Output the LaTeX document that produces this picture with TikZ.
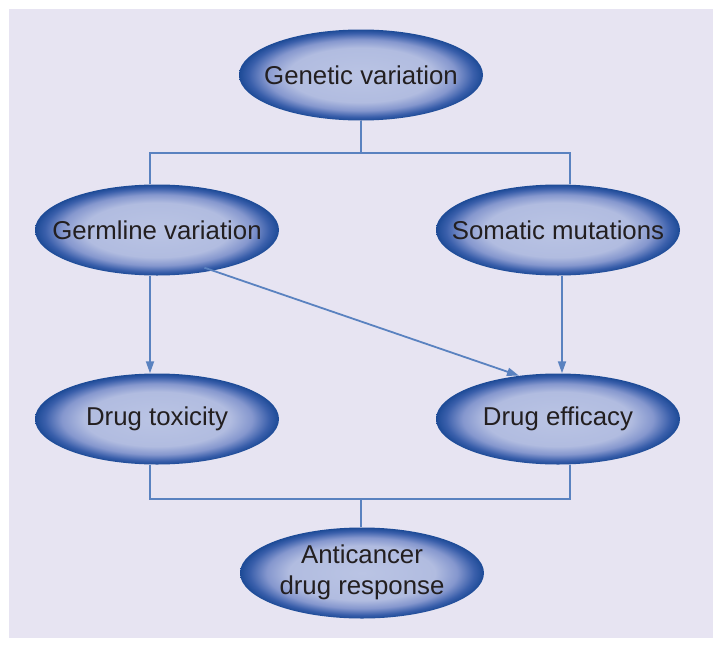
\documentclass[tikz,border=0pt]{standalone}
\usepackage{fontspec}
\setmainfont{Liberation Sans}
\usepackage{tikz}
\usetikzlibrary{calc,shapes.geometric,arrows.meta}
\definecolor{panel}{HTML}{E7E4F2}
\definecolor{ovlight}{HTML}{BAC4E4}
\definecolor{ovinner}{HTML}{B1BCE0}
\definecolor{ovmid}{HTML}{8597CE}
\definecolor{ovedge}{HTML}{3A5FAB}
\definecolor{ovdark}{HTML}{1C4A96}
\definecolor{wire}{HTML}{5A82C0}
\definecolor{ink}{HTML}{231F20}
\newcommand{\wirewidth}{1.8pt}
\newcommand{\ovalfont}{\fontsize{25.8}{31}\selectfont}
\pgfdeclareradialshading{ovalshade}{\pgfpoint{0bp}{0bp}}{color(0bp)=(ovlight); color(15bp)=(ovinner); color(19.5bp)=(ovmid); color(23bp)=(ovedge); color(25bp)=(ovdark); color(50bp)=(ovdark)}

\begin{document}
\begin{tikzpicture}[x=1pt,y=-1pt,
  oval/.style={ellipse, shade, shading=ovalshade, minimum width=244pt, minimum height=91pt, inner sep=0pt, font=\ovalfont, text=ink},
  link/.style={draw=wire, line width=\wirewidth},
  tip/.style={-{Triangle[length=12pt,width=8pt]}}]
\useasboundingbox (0,0) rectangle (723,648);
\fill[panel] (9,9) rectangle (713,638);
%ovals
\node[oval] (gen) at (361,75) {\makebox[0pt]{Genetic variation}};
\node[oval] (germ) at (157,230) {\makebox[0pt]{Germline variation}};
\node[oval] (som) at (558,230) {\makebox[0pt]{Somatic mutations}};
\node[oval] (tox) at (157,419) {\makebox[0pt]{Drug toxicity}};
\node[oval] (eff) at (558,419) {\makebox[0pt]{Drug efficacy}};
\node[oval] (resp) at (362,573) {\makebox[0pt]{\begin{tabular}{@{}c@{}}Anticancer\\drug response\end{tabular}}};
%junctions
\coordinate (topbar) at (361,153);
\coordinate (botbar) at (361,499);
\coordinate (lcol) at (150,0);
\coordinate (rcol) at (570,0);
%top split
\draw[link] (gen.south) -- (topbar);
\draw[link] (lcol |- germ.north) |- (topbar) -| (rcol |- som.north);
%arrows
\draw[link,tip] (lcol |- germ.south) -- (lcol |- tox.north);
\draw[link,tip] ([xshift=4pt]som.south) -- ([xshift=4pt]eff.north);
\draw[link,tip,shorten <=-9pt] (germ.-36) -- (eff.132);
%bottom join
\draw[link] (lcol |- tox.south) |- (botbar) -| (rcol |- eff.south);
\draw[link] (botbar) -- (botbar |- resp.north);
\end{tikzpicture}
\end{document}
